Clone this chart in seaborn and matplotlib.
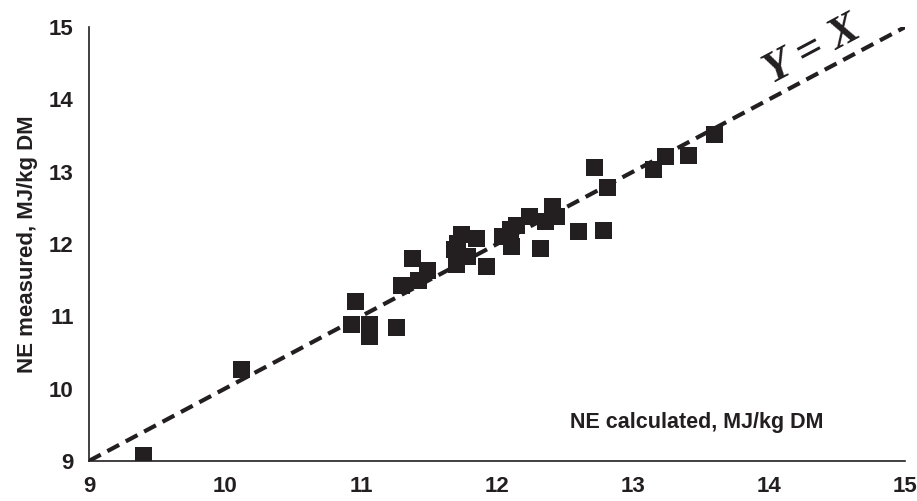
import matplotlib
matplotlib.use("Agg")
import matplotlib.pyplot as plt
import seaborn as sns
import pandas as pd

ne_calculated = [9.40, 10.12, 10.96, 10.93, 11.06, 11.06, 11.26, 11.30, 11.38, 11.42,
                 11.49, 11.70, 11.69, 11.74, 11.85, 11.78, 11.71, 11.92, 12.10, 12.11,
                 12.32, 12.04, 12.14, 12.24, 12.36, 12.41, 12.44, 12.60, 12.78, 12.72,
                 12.81, 13.15, 13.24, 13.41, 13.60]
ne_measured = [9.08, 10.26, 11.20, 10.88, 10.88, 10.72, 10.84, 11.42, 11.80, 11.50,
               11.64, 11.71, 11.92, 12.13, 12.08, 11.83, 12.01, 11.69, 12.20, 11.96,
               11.94, 12.10, 12.26, 12.38, 12.31, 12.52, 12.38, 12.17, 12.19, 13.06,
               12.78, 13.03, 13.21, 13.23, 13.52]
line_x = [9, 15]
line_y = [9, 15]
ticks = [9, 10, 11, 12, 13, 14, 15]

sns.set_style("white")
plt.rcParams['font.family'] = ['Liberation Sans', 'DejaVu Sans']

df = pd.DataFrame({"calc": ne_calculated, "meas": ne_measured})
fig = plt.figure(figsize=(9.17, 5.01), dpi=100)
ax = fig.add_axes([0.097, 0.080, 0.890, 0.866])

sns.lineplot(x=line_x, y=line_y, ax=ax, color="#231f20", linewidth=3,
             linestyle=(0, (3.2, 1.8)), zorder=2)
sns.scatterplot(data=df, x="calc", y="meas", ax=ax, marker="s", s=150,
                color="#231f20", edgecolor="none", zorder=3)

ax.set_xlim(9, 15)
ax.set_ylim(9, 15)
ax.set_xticks(ticks)
ax.set_yticks(ticks)
ax.set_xticklabels([str(t) for t in ticks], fontsize=16, fontweight="bold", color="#231f20")
ax.set_yticklabels([str(t) for t in ticks], fontsize=16, fontweight="bold", color="#231f20")
ax.tick_params(axis="both", direction="out", length=5, width=1, color="#888888", pad=6)
ax.tick_params(axis="x", length=7, pad=4)
for side in ["top", "right"]:
    ax.spines[side].set_visible(False)
for side in ["left", "bottom"]:
    ax.spines[side].set_color("#231f20")
    ax.spines[side].set_linewidth(1.2)

ax.set_xlabel("")
ax.set_ylabel("NE measured, MJ/kg DM", fontsize=16, fontweight="bold", color="#231f20", labelpad=8)
ax.text(0.745, 0.088, "NE calculated, MJ/kg DM", transform=ax.transAxes, ha="center", va="center",
        fontsize=15.5, fontweight="bold", color="#231f20")
ax.text(14.32, 14.68, "Y = X", ha="center", va="center", rotation=28,
        family=["Liberation Serif", "DejaVu Serif"], fontsize=32, fontweight="bold",
        fontstyle="italic", color="#231f20")

fig.savefig("out.png", dpi=100)
